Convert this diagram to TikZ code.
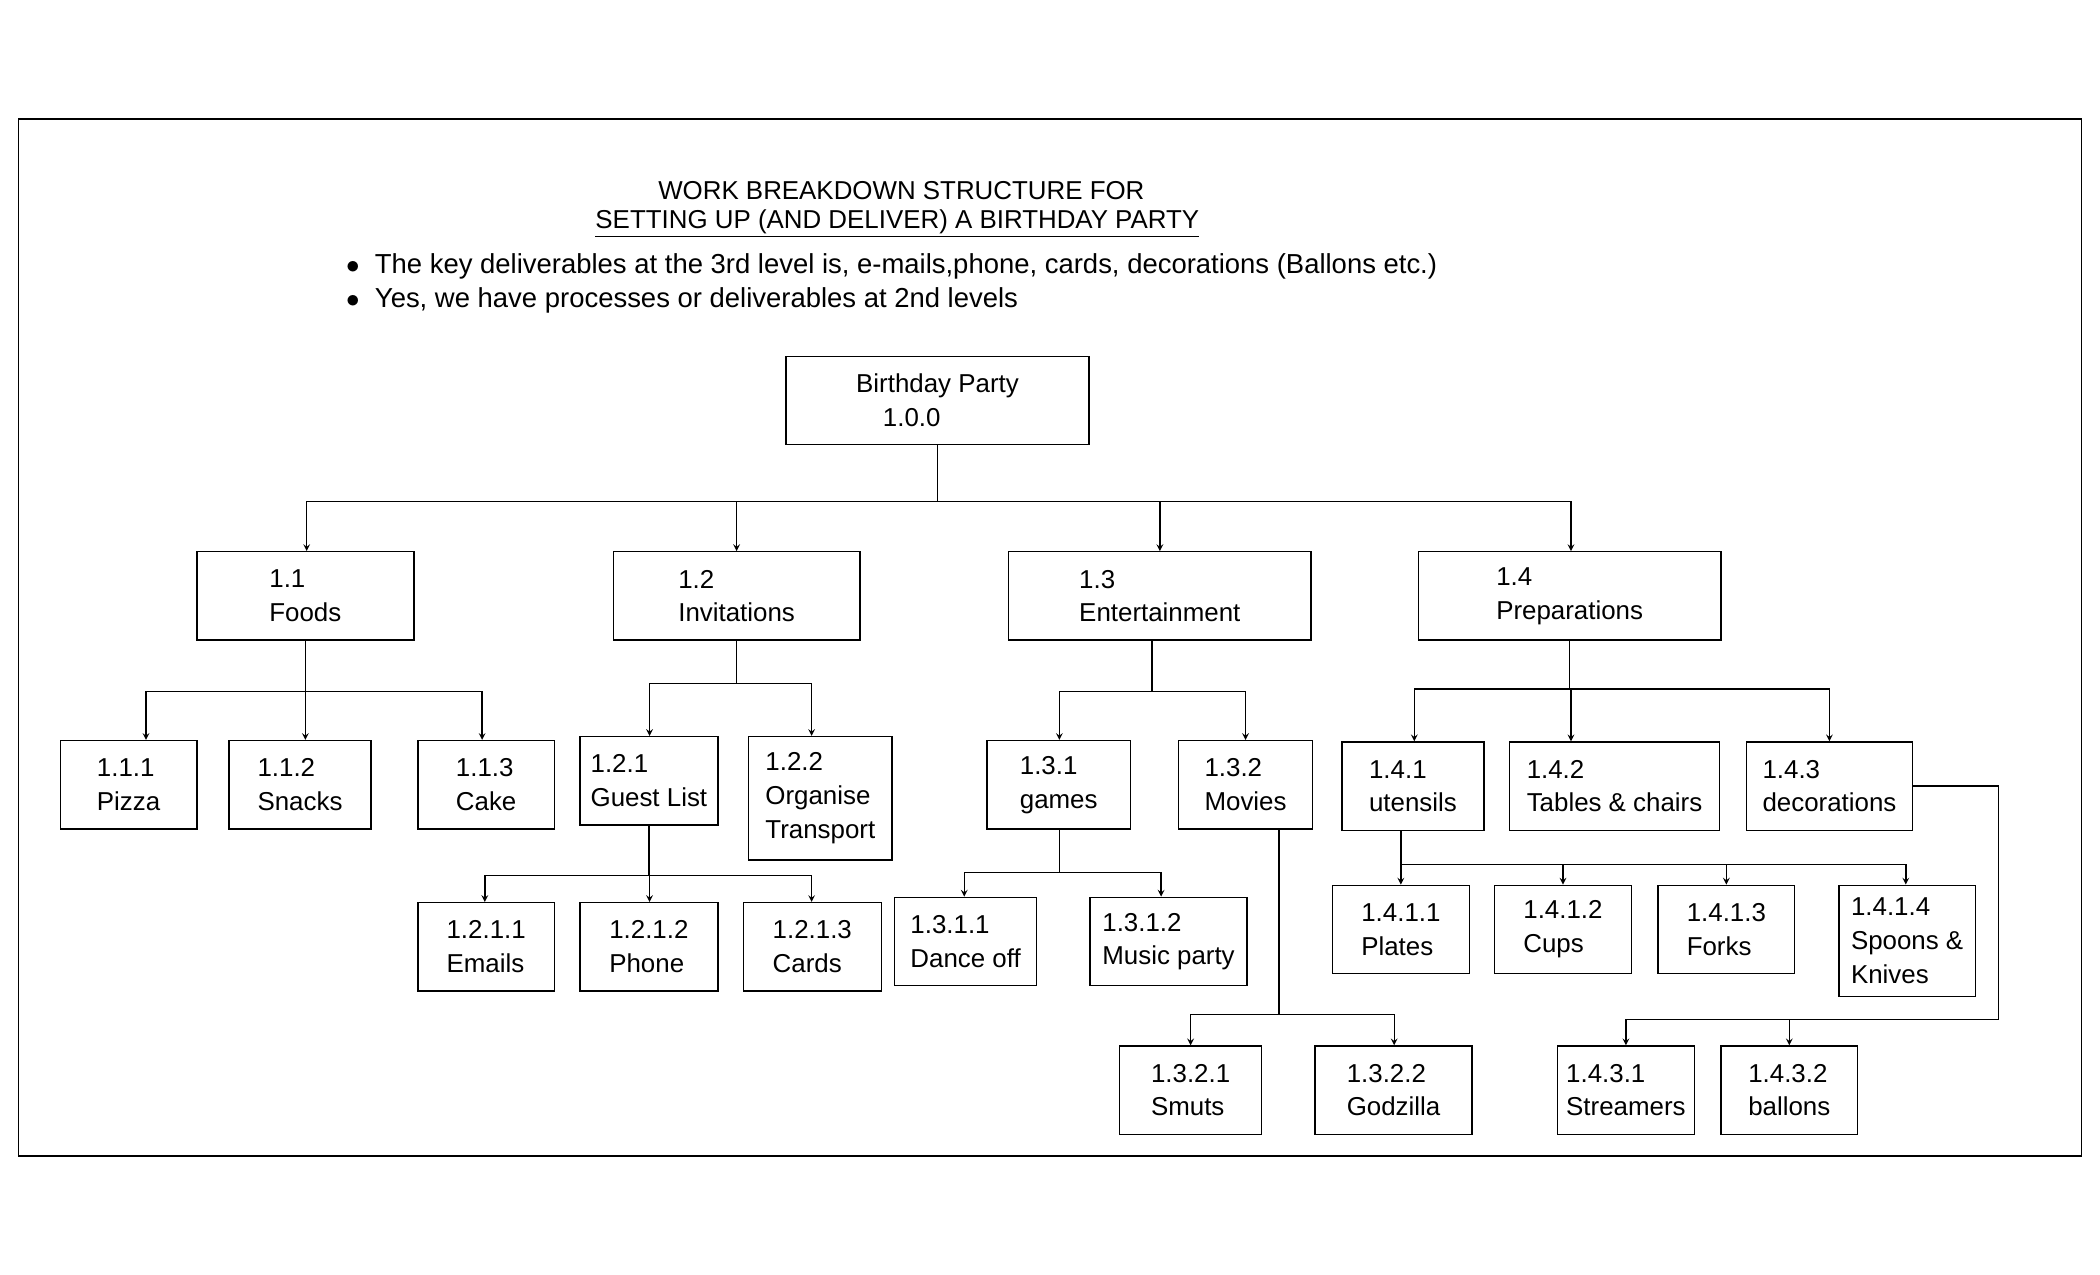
\documentclass[tikz,border=0pt]{standalone}
\usepackage{fontspec}
\setmainfont{Liberation Sans}
\usetikzlibrary{positioning,calc,arrows}
\begin{document}
\begin{tikzpicture}[x=0.03cm, y=-0.03cm, >=stealth, line width=0.9pt,
  font=\fontsize{16.5}{21.5}\selectfont,
  box/.style={draw, inner sep=0pt, align=left},
  bullet/.style={anchor=west, font=\fontsize{17.5}{21}\selectfont}]

\useasboundingbox (0,0) rectangle (1568,952);
\draw (14,89) rectangle (1554,863);

% title
\node (title) at (673,142) {WORK BREAKDOWN STRUCTURE FOR};
\node (subtitle) at (670,167) {\underline{SETTING UP (AND DELIVER) A BIRTHDAY PARTY}};
\node [bullet] (bul1) at (254,199) {$\bullet$\ \ The key deliverables at the 3rd level is, e-mails,phone, cards, decorations (Ballons etc.)};
\node [bullet] (bul2) at (254,224) {$\bullet$\ \ Yes, we have processes or deliverables at 2nd levels};

% boxes
\foreach \n/\xa/\ya/\xb/\yb/\t in {
  root/587/266/813/332/{Birthday Party\\\hspace*{0.6cm}1.0.0},
  n11/147/412/309/478/{1.1\\Foods},
  n12/458/412/642/478/{1.2\\Invitations},
  n13/753/412/979/478/{1.3\\Entertainment},
  n14/1059/412/1285/478/{1.4\\Preparations},
  n111/45/553/147/619/{1.1.1\\Pizza},
  n112/171/553/277/619/{1.1.2\\Snacks},
  n113/312/553/414/619/{1.1.3\\Cake},
  n121/433/550/536/616/{1.2.1\\Guest List},
  n122/559/550/666/642/{1.2.2\\Organise\\Transport},
  n1211/312/674/414/740/{1.2.1.1\\Emails},
  n1212/433/674/536/740/{1.2.1.2\\Phone},
  n1213/555/674/658/740/{1.2.1.3\\Cards},
  n131/737/553/844/619/{1.3.1\\games},
  n132/880/553/980/619/{1.3.2\\Movies},
  n1311/668/670/774/736/{1.3.1.1\\Dance off},
  n1312/814/670/931/736/{1.3.1.2\\Music party},
  n1321/836/781/942/847/{1.3.2.1\\Smuts},
  n1322/982/781/1099/847/{1.3.2.2\\Godzilla},
  n141/1002/554/1108/620/{1.4.1\\utensils},
  n142/1127/554/1284/620/{1.4.2\\Tables \& chairs},
  n143/1304/554/1428/620/{1.4.3\\decorations},
  n1411/995/661/1097/727/{1.4.1.1\\Plates},
  n1412/1116/661/1218/727/{1.4.1.2\\Cups},
  n1413/1238/661/1340/727/{1.4.1.3\\Forks},
  n1414/1373/661/1475/744/{1.4.1.4\\Spoons \&\\Knives},
  n1431/1163/781/1265/847/{1.4.3.1\\Streamers},
  n1432/1285/781/1387/847/{1.4.3.2\\ballons}}
  \node [box, minimum width={(\xb-\xa)*0.03cm}, minimum height={(\yb-\ya)*0.03cm}]
    (\n) at ({(\xa+\xb)/2},{(\ya+\yb)/2}) {\t};

% connectors
\foreach \c/\x in {n11/229,n12/550,n13/866,n14/1173}
  \draw [->] (root.south) -- ++(0,42) -| (\x,0 |- \c.north);
\foreach \c/\x in {n111/109,n112/228,n113/360}
  \draw [->] (n11.south) -- ++(0,38) -| (\x,0 |- \c.north);
\foreach \c/\x in {n121/485,n122/606}
  \draw [->] (n12.south) -- ++(0,32) -| (\x,0 |- \c.north);
\foreach \c/\x in {n1211/362,n1212/485,n1213/606}
  \draw [->] (n121.south) -- ++(0,37) -| (\x,0 |- \c.north);
\foreach \c/\x in {n131/791,n132/930}
  \draw [->] (860,0 |- n13.south) -- ++(0,38) -| (\x,0 |- \c.north);
\foreach \c/\x in {n1311/720,n1312/867}
  \draw [->] (n131.south -| 791,0) -- ++(0,32) -| (\x,0 |- \c.north);
\foreach \c/\x in {n1321/889,n1322/1041}
  \draw [->] (955,0 |- n132.south) -- ++(0,138) -| (\x,0 |- \c.north);
\foreach \c/\x in {n141/1056,n142/1173,n143/1366}
  \draw [->] (n14.south) -- ++(0,36) -| (\x,0 |- \c.north);
\foreach \c/\x in {n1411/1046,n1412/1167,n1413/1289,n1414/1423}
  \draw [->] (1046,0 |- n141.south) -- ++(0,25) -| (\x,0 |- \c.north);
\foreach \c/\x in {n1431/1214,n1432/1336}
  \draw [->] (n143.east) -- (1492,0 |- n143.east) -- (1492,761) -| (\x,0 |- \c.north);

\end{tikzpicture}
\end{document}
